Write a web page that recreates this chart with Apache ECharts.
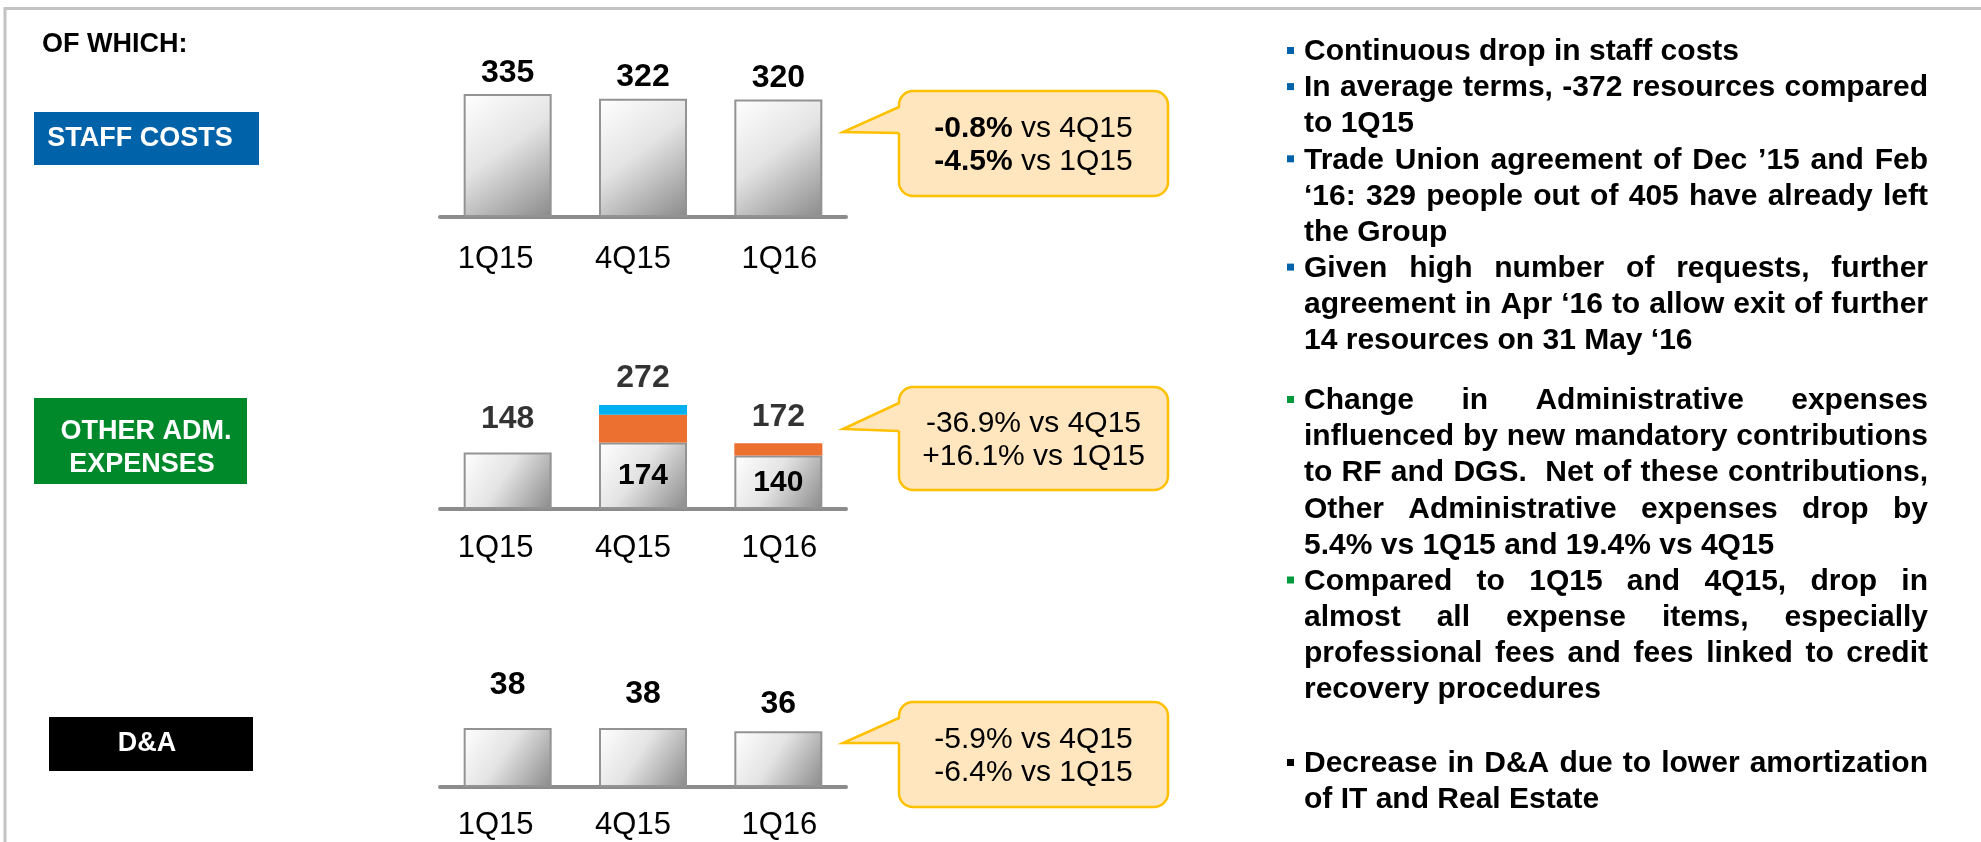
<!DOCTYPE html>
<html>
<head>
<meta charset="utf-8">
<title>Staff costs, other adm. expenses, D&amp;A</title>
<script src="https://cdn.jsdelivr.net/npm/echarts@6/dist/echarts.min.js"></script>
<style>
    html, body { margin: 0; padding: 0; background: #fff; }
    #main { width: 1981px; height: 842px; }
</style>
</head>
<body>
<div id="main"></div>
<script>
// data
var quarters = ['1Q15', '4Q15', '1Q16'];
var staffCosts = [335, 322, 320];
var otherAdmBase = [148, 174, 140];
var otherAdmRF = [0, 73, 32];
var otherAdmDGS = [0, 25, 0];
var depAmort = [38, 38, 36];

// label nudges (px, negative = up)
var totalLabelShift = [-7, 0, 0];
var daLabelShift = [-9, 0, 7];

var FAMILY = '"Liberation Sans", Arial, Helvetica, sans-serif';
var NOTE_FONT = 'bold 30px ' + FAMILY;

// right side comments, one array entry per printed line
var notes = [
    { color: '#0062A8', top: 52, items: [
        ['Continuous drop in staff costs'],
        ['In average terms, -372 resources compared', 'to 1Q15'],
        ['Trade Union agreement of Dec \u201915 and Feb', '\u201816: 329 people out of 405 have already left', 'the Group'],
        ['Given high number of requests, further', 'agreement in Apr \u201816 to allow exit of further', '14 resources on 31 May \u201816']
    ]},
    { color: '#009A3C', top: 401, items: [
        ['Change in Administrative expenses', 'influenced by new mandatory contributions', 'to RF and DGS.  Net of these contributions,', 'Other Administrative expenses drop by', '5.4% vs 1Q15 and 19.4% vs 4Q15'],
        ['Compared to 1Q15 and 4Q15, drop in', 'almost all expense items, especially', 'professional fees and fees linked to credit', 'recovery procedures']
    ]},
    { color: '#000000', top: 764, items: [
        ['Decrease in D&A due to lower amortization', 'of IT and Real Estate']
    ]}
];

var callouts = [
    { top: 91, bottom: 196, tipY: 132, pTop: 107, pBot: 133, lines: ['{b|-0.8%} vs 4Q15', '{b|-4.5%} vs 1Q15'] },
    { top: 387, bottom: 490, tipY: 429, pTop: 403, pBot: 431, lines: ['-36.9% vs 4Q15', '+16.1% vs 1Q15'] },
    { top: 702, bottom: 807, tipY: 743, pTop: 718, pBot: 743, lines: ['-5.9% vs 4Q15', '-6.4% vs 1Q15'] }
];

var totals = otherAdmBase.map(function (v, i) { return v + otherAdmRF[i] + otherAdmDGS[i]; });

var measureCtx = document.createElement('canvas').getContext('2d');
function measure(str, font) {
    measureCtx.font = font;
    return measureCtx.measureText(str).width;
}

function noteText(str, x, y) {
    return {
        type: 'text', x: x, y: y, silent: true,
        style: { text: str, font: NOTE_FONT, fill: '#000', textAlign: 'left', textVerticalAlign: 'middle' }
    };
}

// justified paragraphs (last line of each bullet left aligned)
function notesGraphics() {
    var left = 1304, right = 1928, step = 36.1;
    var els = [];
    notes.forEach(function (group) {
        var y = group.top;
        group.items.forEach(function (lines) {
            els.push({ type: 'rect', silent: true, shape: { x: 1287, y: y - 5, width: 7, height: 7 }, style: { fill: group.color } });
            lines.forEach(function (line, i) {
                if (i === lines.length - 1) {
                    els.push(noteText(line, left, y));
                } else {
                    var words = line.split(' ');
                    var widths = words.map(function (w) { return measure(w, NOTE_FONT); });
                    var sum = widths.reduce(function (a, b) { return a + b; }, 0);
                    var gap = (right - left - sum) / (words.length - 1);
                    var x = left;
                    words.forEach(function (w, k) {
                        if (w) els.push(noteText(w, x, y));
                        x += widths[k] + gap;
                    });
                }
                y += step;
            });
        });
    });
    return els;
}

function calloutGraphics() {
    var x0 = 899, x1 = 1168, tipX = 843;
    var fill = '#FFE6BF', stroke = '#FFC000';
    var els = [];
    callouts.forEach(function (c) {
        els.push({ type: 'rect', silent: true, shape: { x: x0, y: c.top, width: x1 - x0, height: c.bottom - c.top, r: 14 },
            style: { fill: fill, stroke: stroke, lineWidth: 2.5 } });
        els.push({ type: 'polygon', silent: true, shape: { points: [[tipX, c.tipY], [x0 + 3, c.pTop], [x0 + 3, c.pBot]] },
            style: { fill: fill } });
        els.push({ type: 'polyline', silent: true, shape: { points: [[x0, c.pTop], [tipX, c.tipY], [x0, c.pBot]] },
            style: { stroke: stroke, lineWidth: 2.5, fill: null } });
        var mid = (c.top + c.bottom) / 2;
        c.lines.forEach(function (t, i) {
            els.push({ type: 'text', silent: true, x: (x0 + x1) / 2, y: mid - 14.5 + i * 33,
                style: { text: t, fontSize: 30, fontFamily: FAMILY, fill: '#000', textAlign: 'center', textVerticalAlign: 'middle',
                    rich: { b: { fontSize: 30, fontFamily: FAMILY, fontWeight: 'bold', fill: '#000' } } } });
        });
    });
    return els;
}

function labelBox(x, y, w, h, color) {
    return { type: 'rect', silent: true, shape: { x: x, y: y, width: w, height: h }, style: { fill: color } };
}

function boxText(str, x, y) {
    return { type: 'text', silent: true, x: x, y: y,
        style: { text: str, font: 'bold 27px ' + FAMILY, fill: '#fff', textAlign: 'center', textVerticalAlign: 'middle' } };
}

var grayFill = {
    type: 'linear', x: 0, y: 0, x2: 1, y2: 1,
    colorStops: [
        { offset: 0, color: '#ffffff' },
        { offset: 0.45, color: '#e4e4e4' },
        { offset: 1, color: '#8a8a8a' }
    ]
};
var grayBar = { color: grayFill, borderColor: '#939393', borderWidth: 2 };
var valueLabel = { show: true, position: 'top', fontSize: 32, fontWeight: 'bold', fontFamily: FAMILY, color: '#000' };

// category labels sit a little left of the bar centres in the slide
var tickText = { fontSize: 31, fontFamily: FAMILY, color: '#000' };
function xAxisFor(idx, margin) {
    return {
        type: 'category', gridIndex: idx, data: quarters,
        axisLine: { lineStyle: { color: '#8c8c8c', width: 4 } },
        axisTick: { show: false },
        axisLabel: {
            interval: 0, hideOverlap: false,
            fontSize: 31, fontFamily: FAMILY, color: '#000', margin: margin,
            formatter: function (v, i) { return '{q' + i + '|' + v + '}'; },
            rich: {
                q0: Object.assign({ padding: [0, 24, 0, 0] }, tickText),
                q1: Object.assign({ padding: [0, 20, 0, 0] }, tickText),
                q2: Object.assign({ padding: [0, 0, 0, 2] }, tickText)
            }
        }
    };
}

var myChart = echarts.init(document.getElementById('main'));

var option = {
    animation: false,
    backgroundColor: '#fff',
    grid: [
        { left: 440, width: 406, top: 70, height: 147 },
        { left: 440, width: 406, top: 394.4, height: 114.6 },
        { left: 440, width: 406, top: 709.5, height: 77.5 }
    ],
    xAxis: [xAxisFor(0, 27), xAxisFor(1, 24), xAxisFor(2, 23)],
    yAxis: [
        { type: 'value', gridIndex: 0, min: 0, max: 400, show: false },
        { type: 'value', gridIndex: 1, min: 0, max: 300, show: false },
        { type: 'value', gridIndex: 2, min: 0, max: 50, show: false }
    ],
    series: [
        {
            name: 'Staff costs', type: 'bar', xAxisIndex: 0, yAxisIndex: 0,
            data: staffCosts, barWidth: 88, itemStyle: grayBar,
            label: Object.assign({}, valueLabel, { distance: 5 })
        },
        {
            name: 'Other adm. expenses', type: 'bar', xAxisIndex: 1, yAxisIndex: 1, stack: 'adm',
            data: otherAdmBase, barWidth: 88, itemStyle: grayBar,
            label: {
                show: true, position: 'inside', fontSize: 30, fontWeight: 'bold', fontFamily: FAMILY, color: '#000',
                formatter: function (p) {
                    return otherAdmRF[p.dataIndex] + otherAdmDGS[p.dataIndex] > 0 ? p.value : '';
                }
            }
        },
        {
            name: 'RF', type: 'bar', xAxisIndex: 1, yAxisIndex: 1, stack: 'adm',
            data: otherAdmRF, barWidth: 88, itemStyle: { color: '#EC7030' }
        },
        {
            name: 'DGS', type: 'bar', xAxisIndex: 1, yAxisIndex: 1, stack: 'adm',
            data: otherAdmDGS, barWidth: 88, itemStyle: { color: '#00B0F0' }
        },
        {
            name: 'Total', type: 'scatter', xAxisIndex: 1, yAxisIndex: 1, silent: true,
            data: totals.map(function (v, i) {
                return { value: v, label: { offset: [0, totalLabelShift[i]] } };
            }),
            symbolSize: 1, itemStyle: { color: 'rgba(0,0,0,0)' },
            label: Object.assign({}, valueLabel, { distance: 10 })
        },
        {
            name: 'D&A', type: 'bar', xAxisIndex: 2, yAxisIndex: 2,
            data: depAmort.map(function (v, i) {
                return { value: v, label: { offset: [0, daLabelShift[i]] } };
            }),
            barWidth: 88, itemStyle: grayBar,
            label: Object.assign({}, valueLabel, { distance: 18 })
        }
    ],
    graphic: [
        { type: 'polyline', silent: true, shape: { points: [[5, 842], [5, 8.5], [1981, 8.5]] },
            style: { stroke: '#c3c3c3', lineWidth: 3, fill: null } },
        { type: 'text', silent: true, x: 42, y: 45,
            style: { text: 'OF WHICH:', font: 'bold 27px ' + FAMILY, fill: '#000', textAlign: 'left', textVerticalAlign: 'middle' } },
        labelBox(34, 112, 225, 53, '#0062A8'),
        boxText('STAFF COSTS', 140, 139),
        labelBox(34, 398, 213, 86, '#00892B'),
        boxText('OTHER ADM.', 146, 432),
        boxText('EXPENSES', 142, 465),
        labelBox(49, 717, 204, 54, '#000000'),
        boxText('D&A', 147, 744)
    ].concat(calloutGraphics(), notesGraphics())
};

myChart.setOption(option);
</script>
</body>
</html>
